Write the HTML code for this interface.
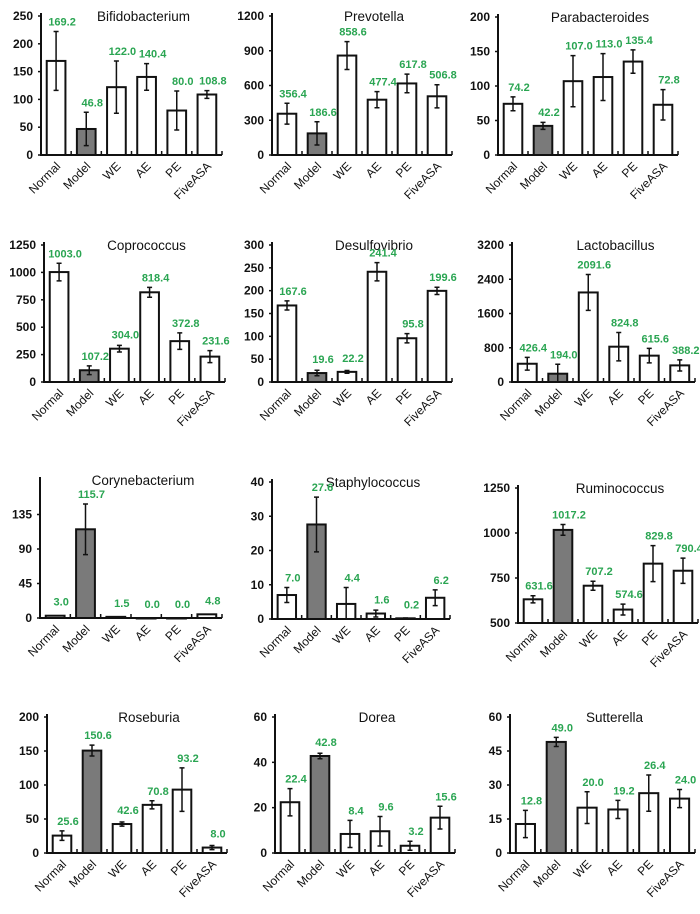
<!DOCTYPE html>
<html><head><meta charset="utf-8"><style>
body{margin:0;background:#fff;width:700px;height:914px;overflow:hidden}
svg{display:block}
text{font-family:"Liberation Sans",Arial,sans-serif}
</style></head><body>
<svg id="chart" width="700" height="914" viewBox="0 0 700 914"></svg>
<script>
const categories = ["Normal","Model","WE","AE","PE","FiveASA"];
const titles = ["Bifidobacterium","Prevotella","Parabacteroides","Coprococcus","Desulfovibrio","Lactobacillus","Corynebacterium","Staphylococcus","Ruminococcus","Roseburia","Dorea","Sutterella"];
const values = [
 [169.2,46.8,122.0,140.4,80.0,108.8],
 [356.4,186.6,858.6,477.4,617.8,506.8],
 [74.2,42.2,107.0,113.0,135.4,72.8],
 [1003.0,107.2,304.0,818.4,372.8,231.6],
 [167.6,19.6,22.2,241.4,95.8,199.6],
 [426.4,194.0,2091.6,824.8,615.6,388.2],
 [3.0,115.7,1.5,0.0,0.0,4.8],
 [7.0,27.6,4.4,1.6,0.2,6.2],
 [631.6,1017.2,707.2,574.6,829.8,790.4],
 [25.6,150.6,42.6,70.8,93.2,8.0],
 [22.4,42.8,8.4,9.6,3.2,15.6],
 [12.8,49.0,20.0,19.2,26.4,24.0]
];
const errors = [
 [53,30,47,24,35,7],
 [90,100,120,70,80,100],
 [10,5,37,34,17,22],
 [80,40,30,45,75,55],
 [10,6,3,20,10,8],
 [150,220,420,330,170,130],
 [0,33,0,0,0,0],
 [2.2,8,4.8,1,0.1,2.3],
 [20,30,25,30,100,70],
 [7,8,3,6,32,3],
 [6,1.2,6,6.5,2,5],
 [6,2,7,4,8,4]
];
const yMin = [0,0,0,0,0,0,0,0,500,0,0,0];
const yMax = [250,1200,200,1250,300,3200,180,40,1250,200,60,60];
const yTicks = [
 [0,50,100,150,200,250],[0,300,600,900,1200],[0,50,100,150,200],
 [0,250,500,750,1000,1250],[0,50,100,150,200,250,300],[0,800,1600,2400,3200],
 [0,45,90,135],[0,10,20,30,40],[500,750,1000,1250],
 [0,50,100,150,200],[0,20,40,60],[0,15,30,45,60]
];
// layout: [axisX, axisEnd, topY, baseY]
const layout = [
 [41,222,16,155],[272,452,16,155],[498,678,17,155],
 [44,225,245,382],[272,452,245,382],[512,695,245,382],
 [40,222,480,618],[272,450,482,619],[518,698,488,623],
 [47,227,717,853],[275,455,717,853],[510,695,717,853]
];
const NS="http://www.w3.org/2000/svg";
const svg=document.getElementById('chart');
function mk(tag,attrs,parent){const e=document.createElementNS(NS,tag);for(const k in attrs)e.setAttribute(k,attrs[k]);(parent||svg).appendChild(e);return e;}
titles.forEach((t,p)=>{
  const [ax,ae,top,base]=layout[p];
  const g=mk('g',{});
  
  
  const y=v=>base-(v-yMin[p])/(yMax[p]-yMin[p])*(base-top);
  const step=(ae-ax)/6;
  const bw=step*0.62;
  const xc=i=>ax+(i+0.5)*step;
  const tt=mk('text',{x:(ax+ae)/2+12,y:top+5,'text-anchor':'middle','font-size':13.5,fill:'#111'},g);
  tt.textContent=t;
  
  
  values[p].forEach((v,i)=>{
    const yt=y(v);
    const r=mk('rect',{x:xc(i)-bw/2,y:yt,width:bw,height:Math.max(base-yt,0.5),fill:i===1?'#7a7a7a':'#fff',stroke:'#111','stroke-width':2},g);
    
    
    const e=errors[p][i];
    if(e>0){
      const y1=y(v+e),y2=y(Math.max(v-e,yMin[p]));
      const l=mk('path',{d:`M${xc(i)},${y1}V${y2}M${xc(i)-2.5},${y1}H${xc(i)+2.5}M${xc(i)-2.5},${y2}H${xc(i)+2.5}`,stroke:'#111','stroke-width':1.5,fill:'none'},g);
      
      
    }
    let ly=Math.max(Math.min(y(v+e)-6,yt-10),top+8);
    const vl=mk('text',{x:xc(i)+6,y:ly,'text-anchor':'middle','font-size':11,'font-weight':'bold',fill:'#2aa552'},g);
    vl.textContent=v.toFixed(1);
    
    
    const xl=mk('text',{x:0,y:0,'text-anchor':'end','font-size':12,fill:'#111',transform:`translate(${xc(i)+5},${base+12}) rotate(-45)`},g);
    xl.textContent=categories[i];
    
    
  });
  const axis=mk('path',{d:`M${ax},${top-3}V${base}H${ae}`,stroke:'#111','stroke-width':2,fill:'none'},g);
  
  
  for(let k=1;k<=6;k++){
    const tk=mk('line',{x1:ax+k*step,x2:ax+k*step,y1:base,y2:base-4,stroke:'#111','stroke-width':1.5},g);
    
    
  }
  yTicks[p].forEach(v=>{
    const tk=mk('line',{x1:ax-3,x2:ax,y1:y(v),y2:y(v),stroke:'#111','stroke-width':1.5},g);
    
    
    const tl=mk('text',{x:ax-8,y:y(v)+4,'text-anchor':'end','font-size':12,'font-weight':'bold',fill:'#111'},g);
    tl.textContent=v;
    
    
  });
});
</script>
</body></html>
